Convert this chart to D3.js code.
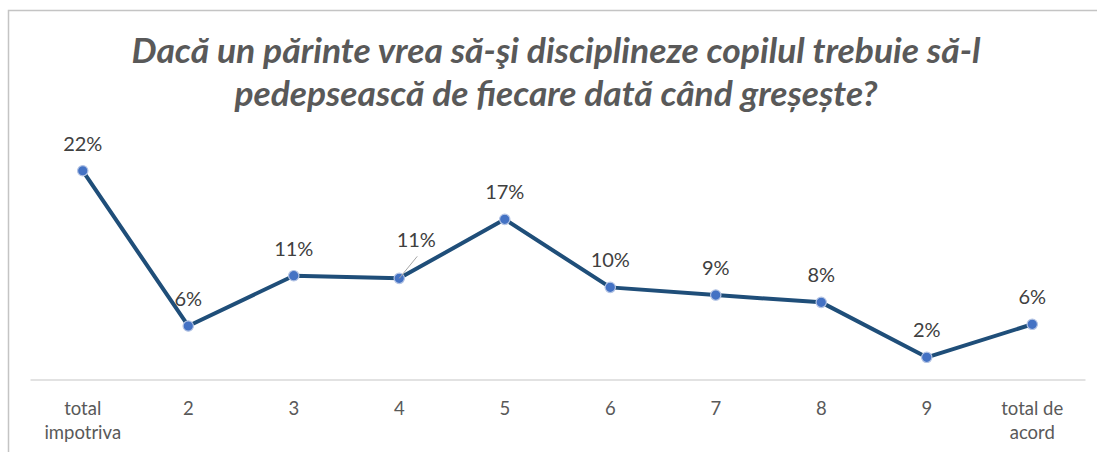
<!DOCTYPE html>
<html>
<head>
<meta charset="utf-8">
<script src="https://cdn.jsdelivr.net/npm/d3@7"></script>
<style>
  body { margin: 0; background: #fff; }
  svg { display: block; }
</style>
</head>
<body>
<script>
const categories = ["total impotriva", "2", "3", "4", "5", "6", "7", "8", "9", "total de acord"];
const values = [0.22, 0.0564, 0.1094, 0.1066, 0.1688, 0.0971, 0.089, 0.0813, 0.0234, 0.0582];
const labels = ["22%", "6%", "11%", "11%", "17%", "10%", "9%", "8%", "2%", "6%"];
const titleLines = [
  "Dacă un părinte vrea să-şi disciplineze copilul trebuie să-l",
  "pedepsească de fiecare dată când greșește?"
];

const width = 1097, height = 452;
const svg = d3.select("body").append("svg")
  .attr("width", width)
  .attr("height", height);

// chart frame (only top and left edges are visible)
svg.append("path")
  .attr("d", `M8.5,${height} V10.5 H${width}`)
  .attr("fill", "none")
  .attr("stroke", "#c4c4c4")
  .attr("stroke-width", 1.5);

const titleFont = "Lato, 'Open Sans', sans-serif";
const bodyFont = "Lato, 'Open Sans', sans-serif";

const title = svg.append("text")
  .attr("text-anchor", "middle")
  .attr("font-family", titleFont)
  .attr("font-weight", "bold")
  .attr("font-style", "italic")
  .attr("font-size", 34)
  .attr("fill", "#595959");
title.selectAll("tspan")
  .data(titleLines)
  .join("tspan")
  .attr("x", 556)
  .attr("y", (d, i) => 63 + i * 43)
  .attr("textLength", (d, i) => i === 0 ? 849 : 643)
  .attr("lengthAdjust", "spacingAndGlyphs")
  .text(d => d);

const x = d3.scaleBand()
  .domain(categories)
  .range([30, 1085]);

const y = d3.scaleLinear()
  .domain([0, 0.25])
  .range([379.5, 142.3]);

const cx = d => x(d) + x.bandwidth() / 2;

// category axis
const xAxis = svg.append("g")
  .attr("transform", `translate(0,${y(0)})`)
  .call(d3.axisBottom(x).tickSize(0).tickPadding(0));
xAxis.select(".domain")
  .attr("stroke", "#d9d9d9")
  .attr("stroke-width", 1.5);
xAxis.selectAll(".tick text").remove();
xAxis.selectAll(".tick")
  .append("text")
  .attr("text-anchor", "middle")
  .attr("font-family", bodyFont)
  .attr("font-size", 18.5)
  .attr("fill", "#595959")
  .selectAll("tspan")
  .data(d => d.startsWith("total ") ? ["total" + (d.endsWith("acord") ? " de" : ""), d.endsWith("acord") ? "acord" : "impotriva"] : [d])
  .join("tspan")
  .attr("x", 0)
  .attr("y", (d, i) => 35 + i * 24)
  .text(d => d);

const pts = categories.map((c, i) => ({ c, v: values[i], l: labels[i] }));

svg.append("path")
  .datum(pts)
  .attr("fill", "none")
  .attr("stroke", "#1f4e79")
  .attr("stroke-width", 4)
  .attr("stroke-linejoin", "round")
  .attr("d", d3.line().x(d => cx(d.c)).y(d => y(d.v)));

svg.selectAll("circle.pt")
  .data(pts)
  .join("circle")
  .attr("class", "pt")
  .attr("cx", d => cx(d.c))
  .attr("cy", d => y(d.v))
  .attr("r", 5.2)
  .attr("fill", "#4472c4")
  .attr("stroke", "#b4c4e4")
  .attr("stroke-width", 1.2);

// label for "4" sits off the point with a leader line
const offset = d => d.c === "4" ? [17, -31] : [0, -20];

svg.selectAll("line.leader")
  .data(pts.filter(d => d.c === "4"))
  .join("line")
  .attr("class", "leader")
  .attr("x1", d => cx(d.c))
  .attr("y1", d => y(d.v))
  .attr("x2", d => cx(d.c) + 18)
  .attr("y2", d => y(d.v) - 22)
  .attr("stroke", "#a6a6a6")
  .attr("stroke-width", 1);

svg.selectAll("text.lbl")
  .data(pts)
  .join("text")
  .attr("class", "lbl")
  .attr("x", d => cx(d.c) + offset(d)[0])
  .attr("y", d => y(d.v) + offset(d)[1])
  .attr("text-anchor", "middle")
  .attr("font-family", bodyFont)
  .attr("font-size", 20)
  .attr("fill", "#404040")
  .text(d => d.l);
</script>
</body>
</html>
